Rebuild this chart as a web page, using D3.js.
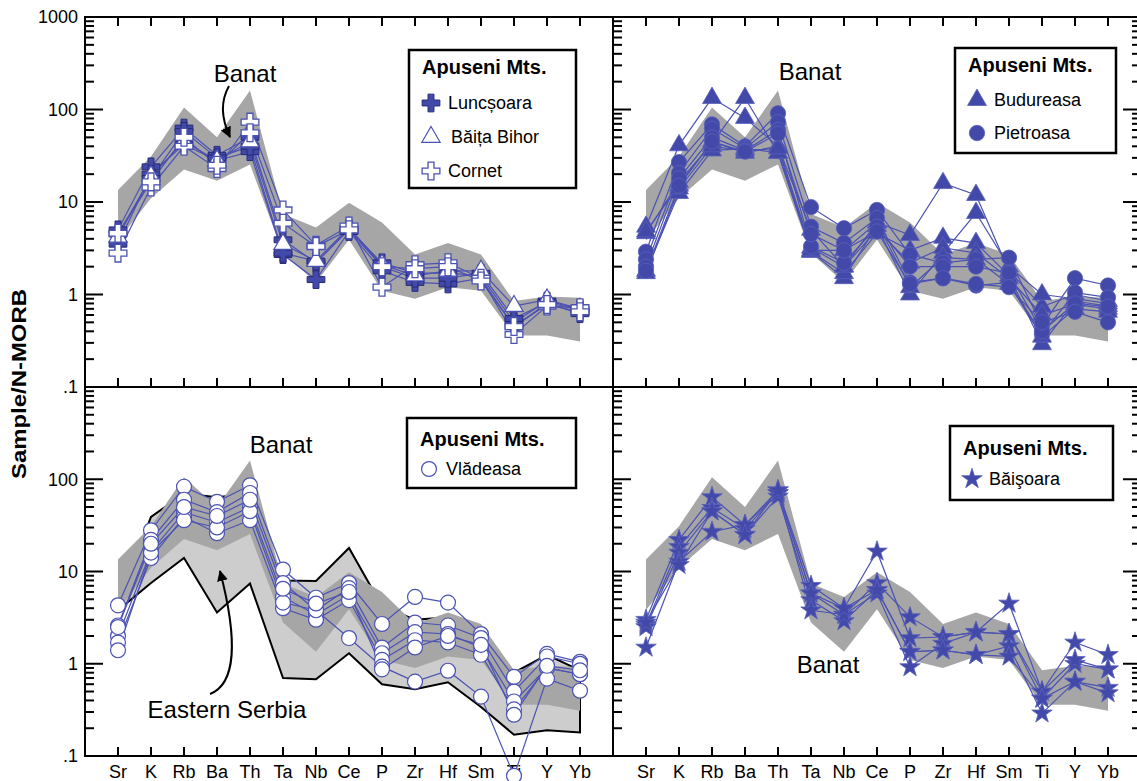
<!DOCTYPE html>
<html lang="en">
<head>
  <meta charset="UTF-8">
  <title>N-MORB normalised spider diagrams</title>
  <style>
    body {
      margin: 0;
      padding: 0;
      background: #fff;
      font-family: "Liberation Sans", Arial, Helvetica, sans-serif;
    }
    svg text { fill: #000; }
  </style>
</head>
<body>
  <svg id="chart" width="1137" height="781"></svg>
  <script src="https://d3js.org/d3.v7.min.js"></script>
  <script>
    // element order along the x axis
    const elements = ['Sr', 'K', 'Rb', 'Ba', 'Th', 'Ta', 'Nb', 'Ce', 'P', 'Zr', 'Hf', 'Sm', 'Ti', 'Y', 'Yb'];
    const yTickValues = [0.1, 1, 10, 100, 1000];
    const yTickLabels = ['.1', '1', '10', '100', '1000'];

    // Banat field (dark grey) and Eastern Serbia field (light grey)
    const banatUpper = [13.5, 31, 105, 50, 160, 7.4, 5.3, 9.8, 6.0, 2.7, 3.6, 2.7, 0.85, 0.95, 0.92];
    const banatLower = [3.8, 11, 22.5, 17, 25.5, 2.8, 1.35, 3.9, 1.1, 0.9, 1.2, 1.1, 0.36, 0.36, 0.31];
    const serbiaUpper = [4.5, 39, 70, 64, 70, 8.0, 7.9, 18, 4.2, 3.0, 3.2, 2.5, 0.8, 1.25, 0.85];
    const serbiaLower = [3.8, 7.5, 14, 3.6, 7.4, 0.7, 0.68, 1.3, 0.6, 0.53, 0.63, 0.34, 0.17, 0.19, 0.18];

    // Apuseni Mts. samples
    const luncsoara = [
      [5.0, 24, 63, 32, 50, 3.9, 2.2, 5.0, 2.2, 1.7, 1.7, 1.6, 0.5, 0.85, 0.7],
      [3.5, 20, 42, 28, 35, 2.7, 1.45, 4.8, 1.8, 1.35, 1.3, 1.5, 0.45, 0.8, 0.62],
      [4.5, 18, 58, 30, 40, 2.8, 2.3, 5.2, 2.0, 1.5, 1.5, 1.7, 0.55, 0.82, 0.68]
    ];
    const baitaBihor = [
      [4.2, 19, 45, 28, 45, 3.5, 2.3, 5.3, 2.1, 1.6, 1.8, 1.8, 0.75, 0.88, 0.7]
    ];
    const cornet = [
      [2.8, 14.5, 40, 23, 73, 8.2, 3.4, 5.5, 1.2, 2.1, 2.2, 1.5, 0.37, 0.75, 0.72],
      [4.6, 16.5, 50, 25, 56, 5.9, 3.3, 5.0, 2.0, 1.9, 2.0, 1.4, 0.45, 0.78, 0.65]
    ];
    const budureasa = [
      [5.4, 41, 133, 81, 40, 5.0, 2.0, 6.0, 4.4, 16, 11.9, 1.8, 0.74, 1.0, 0.85],
      [4.6, 16.5, 43, 133, 34, 2.9, 1.5, 5.5, 1.0, 2.8, 7.6, 2.0, 1.0, 0.9, 0.8],
      [1.8, 12.5, 36, 38, 34, 2.9, 1.7, 4.6, 3.0, 4.1, 3.6, 1.6, 0.29, 0.85, 0.75],
      [4.8, 15, 45, 34, 40, 3.2, 2.0, 5.0, 2.2, 3.2, 2.8, 1.5, 0.6, 0.78, 0.7],
      [1.7, 14, 40, 36, 38, 3.0, 3.0, 6.0, 1.2, 2.5, 2.4, 1.3, 0.35, 0.7, 0.65]
    ];
    const pietroasa = [
      [2.9, 27, 69, 40, 91, 8.8, 5.2, 8.2, 2.7, 2.2, 2.4, 2.5, 0.46, 1.5, 1.25],
      [2.4, 20.5, 62, 38, 73, 5.4, 3.6, 6.7, 1.35, 1.5, 1.25, 1.35, 0.37, 1.05, 0.93],
      [2.0, 18, 50, 36, 60, 3.3, 2.2, 5.4, 2.0, 2.0, 2.0, 1.7, 0.4, 0.8, 0.74],
      [1.8, 15, 45, 35, 55, 4.5, 3.0, 4.8, 1.3, 1.5, 1.3, 1.2, 0.5, 0.65, 0.5]
    ];
    const vladeasa = [
      [4.3, 28, 83, 57, 86, 10.5, 5.2, 7.5, 2.7, 5.3, 4.6, 2.1, 0.72, 1.28, 1.05],
      [2.6, 22, 60, 44, 71, 7.5, 3.8, 6.6, 1.5, 2.8, 2.6, 1.9, 0.5, 1.2, 1.0],
      [2.0, 16.5, 44, 34, 50, 5.3, 3.4, 5.6, 1.3, 2.2, 2.1, 1.5, 0.39, 0.9, 0.77],
      [1.7, 14, 39, 26, 36, 4.0, 3.0, 4.9, 1.1, 1.8, 1.7, 1.25, 0.32, 0.9, 0.77],
      [1.4, 16, 36, 30, 45, 4.6, 3.8, 1.9, 0.93, 0.64, 0.84, 0.44, 0.061, 0.69, 0.51],
      [2.5, 20, 50, 40, 60, 6.5, 4.5, 6.0, 0.87, 1.5, 2.0, 1.6, 0.28, 0.95, 0.85]
    ];
    const baisoara = [
      [3.0, 22, 64, 32, 76, 7.0, 4.0, 16.5, 1.9, 1.95, 2.2, 4.5, 0.5, 1.7, 1.25],
      [2.65, 18.5, 49, 29, 71, 5.8, 3.4, 7.5, 3.2, 1.95, 2.2, 2.1, 0.42, 1.0, 0.87],
      [2.5, 16, 45, 25, 65, 4.9, 2.9, 6.3, 1.35, 1.4, 1.25, 1.55, 0.29, 0.64, 0.55],
      [1.5, 12.8, 27, 32, 71, 3.8, 3.4, 5.8, 0.92, 1.65, 2.2, 2.1, 0.5, 1.1, 0.87],
      [2.8, 11.8, 45, 25, 76, 5.8, 4.0, 6.3, 1.35, 1.4, 1.25, 1.2, 0.42, 0.64, 0.48]
    ];

    const blue = '#4249a8';
    const lineBlue = '#4b52b2';

    // marker styles
    const crossFilled = { type: d3.symbolCross, size: 175, fill: blue, stroke: '#262b78', sw: 1 };
    const crossOpen = { type: d3.symbolCross, size: 175, fill: '#fff', stroke: lineBlue, sw: 1.3 };
    const triOpen = { type: d3.symbolTriangle, size: 145, fill: '#fff', stroke: lineBlue, sw: 1.2 };
    const triFilled = { type: d3.symbolTriangle, size: 155, fill: blue, stroke: '#5a61bb', sw: 0.8 };
    const circleFilled = { type: d3.symbolCircle, size: 185, fill: blue, stroke: '#5a61bb', sw: 0.8 };
    const circleOpen = { type: d3.symbolCircle, size: 175, fill: '#fff', stroke: lineBlue, sw: 1.2 };
    const star = { type: d3.symbolStar, size: 130, fill: blue, stroke: '#5a61bb', sw: 0.8 };

    const svg = d3.select('#chart');

    svg.append('defs').append('marker')
      .attr('id', 'arrow')
      .attr('viewBox', '0 0 10 10')
      .attr('refX', 9).attr('refY', 5)
      .attr('markerWidth', 11).attr('markerHeight', 11)
      .attr('markerUnits', 'userSpaceOnUse')
      .attr('orient', 'auto')
      .append('path')
      .attr('d', 'M0,0 L10,5 L0,10 Z')
      .attr('fill', '#000');

    const panels = [
      {
        x0: 85, x1: 613, y0: 17, y1: 387,
        yLabels: [0.1, 1, 10, 100, 1000], xLabels: false, topTicks: true, rightTicks: false,
        fields: [{ upper: banatUpper, lower: banatLower, fill: '#a6a6a6' }],
        groups: [
          { samples: luncsoara, sym: crossFilled },
          { samples: baitaBihor, sym: triOpen },
          { samples: cornet, sym: crossOpen }
        ],
        legend: { x: 409, y: 50, w: 167, h: 138, titleY: 67, items: [
          { sym: crossFilled, label: 'Luncșoara', y: 103 },
          { sym: triOpen, label: 'Băița Bihor', y: 137, dx: 3 },
          { sym: crossOpen, label: 'Cornet', y: 171 }
        ] },
        notes: [{ text: 'Banat', x: 245, y: 82 }],
        arrows: ['M229,86 C221,100 221,118 230,137']
      },
      {
        x0: 613, x1: 1141, y0: 17, y1: 387,
        yLabels: [], xLabels: false, topTicks: true, rightTicks: true,
        fields: [{ upper: banatUpper, lower: banatLower, fill: '#a6a6a6' }],
        groups: [
          { samples: budureasa, sym: triFilled },
          { samples: pietroasa, sym: circleFilled }
        ],
        legend: { x: 955, y: 48, w: 161, h: 105, titleY: 65, items: [
          { sym: triFilled, label: 'Budureasa', y: 100 },
          { sym: circleFilled, label: 'Pietroasa', y: 133 }
        ] },
        notes: [{ text: 'Banat', x: 810, y: 80 }],
        arrows: []
      },
      {
        x0: 85, x1: 613, y0: 387, y1: 756,
        yLabels: [0.1, 1, 10, 100], xLabels: true, topTicks: false, rightTicks: false,
        fields: [
          { upper: serbiaUpper, lower: serbiaLower, fill: '#cdcdcd', stroke: '#000' },
          { upper: banatUpper, lower: banatLower, fill: '#a6a6a6' }
        ],
        groups: [
          { samples: vladeasa, sym: circleOpen }
        ],
        legend: { x: 407, y: 418, w: 169, h: 70, titleY: 439, items: [
          { sym: circleOpen, label: 'Vlădeasa', y: 469 }
        ] },
        notes: [{ text: 'Banat', x: 281, y: 453 }, { text: 'Eastern Serbia', x: 227, y: 718 }],
        arrows: ['M210,694 C236,684 238,640 220,571']
      },
      {
        x0: 613, x1: 1141, y0: 387, y1: 756,
        yLabels: [], xLabels: true, topTicks: false, rightTicks: true,
        fields: [{ upper: banatUpper, lower: banatLower, fill: '#a6a6a6' }],
        groups: [
          { samples: baisoara, sym: star }
        ],
        legend: { x: 950, y: 426, w: 163, h: 74, titleY: 448, items: [
          { sym: star, label: 'Băişoara', y: 479 }
        ] },
        notes: [{ text: 'Banat', x: 828, y: 673 }],
        arrows: []
      }
    ];

    function marker(g, sym, cx, cy) {
      g.append('path')
        .attr('d', d3.symbol().type(sym.type).size(sym.size)())
        .attr('transform', `translate(${cx},${cy})`)
        .attr('fill', sym.fill)
        .attr('stroke', sym.stroke)
        .attr('stroke-width', sym.sw);
    }

    function drawPanel(p) {
      const x = d3.scaleLinear().domain([-1, elements.length]).range([p.x0, p.x1]);
      const y = d3.scaleLog().domain([0.1, 1000]).range([p.y1, p.y0]);
      const g = svg.append('g');

      // axes: ticks pointing inwards
      const axis = g.append('g').attr('stroke', '#000').attr('stroke-width', 2);
      y.ticks().forEach(t => {
        const lg = Math.log10(t);
        const len = Math.abs(lg - Math.round(lg)) < 1e-6 ? 18 : 9;
        axis.append('line').attr('x1', p.x0).attr('x2', p.x0 + len).attr('y1', y(t)).attr('y2', y(t));
        if (p.rightTicks) {
          axis.append('line').attr('x1', p.x1).attr('x2', p.x1 - len).attr('y1', y(t)).attr('y2', y(t));
        }
      });
      elements.forEach((e, i) => {
        axis.append('line').attr('x1', x(i)).attr('x2', x(i)).attr('y1', p.y1).attr('y2', p.y1 - 9);
        if (p.topTicks) {
          axis.append('line').attr('x1', x(i)).attr('x2', x(i)).attr('y1', p.y0).attr('y2', p.y0 + 9);
        }
      });

      p.yLabels.forEach(v => {
        g.append('text')
          .attr('x', p.x0 - 7)
          .attr('y', y(v))
          .attr('dy', '0.36em')
          .attr('text-anchor', 'end')
          .style('font-size', '18px')
          .text(yTickLabels[yTickValues.indexOf(v)]);
      });

      if (p.xLabels) {
        elements.forEach((e, i) => {
          g.append('text')
            .attr('x', x(i))
            .attr('y', p.y1 + 22)
            .attr('text-anchor', 'middle')
            .style('font-size', '18px')
            .text(e);
        });
      }

      // fields
      p.fields.forEach(f => {
        const pts = f.upper.map((v, i) => [x(i), y(v)])
          .concat(f.lower.map((v, i) => [x(i), y(v)]).reverse());
        g.append('path')
          .attr('d', d3.line()(pts) + 'Z')
          .attr('fill', f.fill)
          .attr('stroke', f.stroke || 'none')
          .attr('stroke-width', 2)
          .attr('stroke-linejoin', 'miter');
      });

      // sample lines, then markers
      const line = d3.line().x((d, i) => x(i)).y(d => y(d));
      p.groups.forEach(grp => {
        grp.samples.forEach(s => {
          g.append('path')
            .attr('d', line(s))
            .attr('fill', 'none')
            .attr('stroke', lineBlue)
            .attr('stroke-width', 1.2);
        });
      });
      p.groups.forEach(grp => {
        grp.samples.forEach(s => {
          s.forEach((v, i) => marker(g, grp.sym, x(i), y(v)));
        });
      });

      // annotations
      p.notes.forEach(n => {
        g.append('text')
          .attr('x', n.x).attr('y', n.y)
          .attr('text-anchor', 'middle')
          .style('font-size', '24px')
          .text(n.text);
      });
      p.arrows.forEach(a => {
        g.append('path')
          .attr('d', a)
          .attr('fill', 'none')
          .attr('stroke', '#000')
          .attr('stroke-width', 2)
          .attr('marker-end', 'url(#arrow)');
      });

      // legend
      const L = p.legend;
      const lg = g.append('g');
      lg.append('rect')
        .attr('x', L.x).attr('y', L.y).attr('width', L.w).attr('height', L.h)
        .attr('fill', '#fff').attr('stroke', '#000').attr('stroke-width', 2.5);
      lg.append('text')
        .attr('x', L.x + 13).attr('y', L.titleY).attr('dy', '0.36em')
        .style('font-size', '20px').style('font-weight', 'bold')
        .text('Apuseni Mts.');
      L.items.forEach(it => {
        marker(lg, it.sym, L.x + 22, it.y);
        lg.append('text')
          .attr('x', L.x + 39 + (it.dx || 0)).attr('y', it.y).attr('dy', '0.36em')
          .style('font-size', '18px')
          .text(it.label);
      });

      // frame
      g.append('rect')
        .attr('x', p.x0).attr('y', p.y0)
        .attr('width', p.x1 - p.x0).attr('height', p.y1 - p.y0)
        .attr('fill', 'none').attr('stroke', '#000').attr('stroke-width', 2);
    }

    panels.forEach(drawPanel);

    svg.append('text')
      .attr('transform', 'translate(26,384) rotate(-90)')
      .attr('text-anchor', 'middle')
      .attr('textLength', 190)
      .attr('lengthAdjust', 'spacingAndGlyphs')
      .style('font-size', '20px')
      .style('font-weight', 'bold')
      .text('Sample/N-MORB');
  </script>
</body>
</html>
